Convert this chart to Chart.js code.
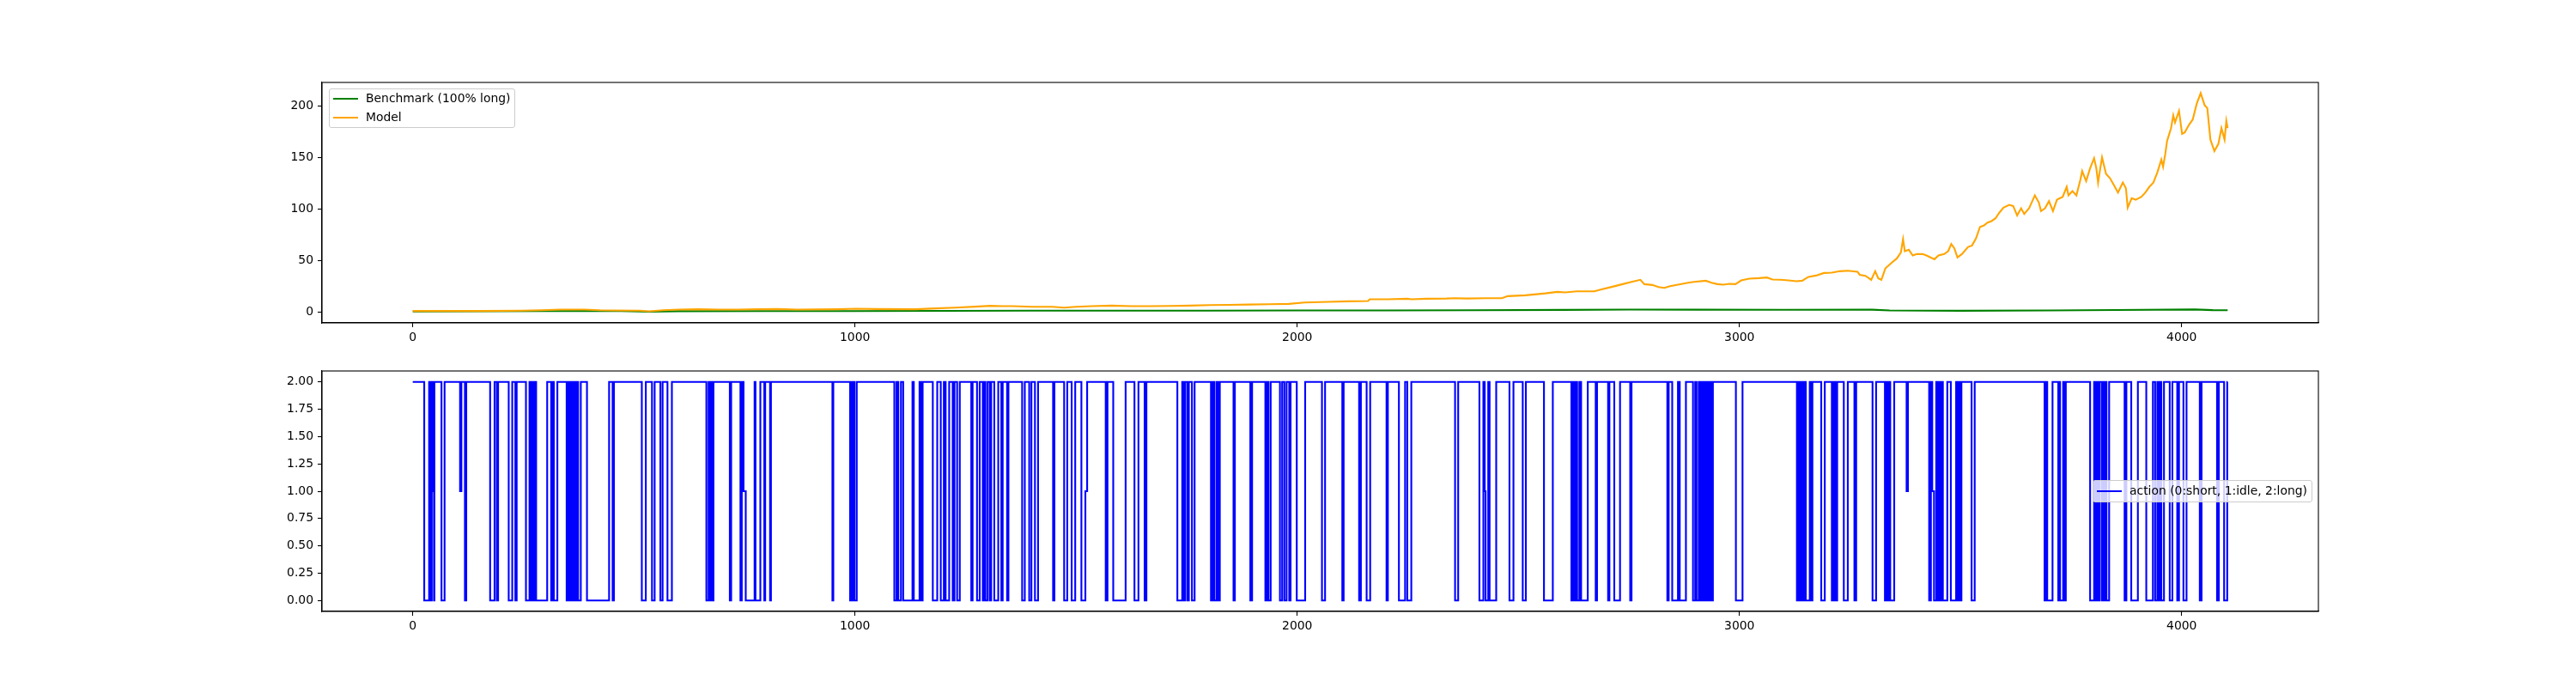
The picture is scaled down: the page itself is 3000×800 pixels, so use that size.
<!DOCTYPE html>
<html>
<head>
<meta charset="utf-8">
<script src="https://cdn.jsdelivr.net/npm/chart.js@4.4.1/dist/chart.umd.min.js"></script>
<style>
    html, body { margin: 0; padding: 0; background: #fff; }
    #lienzo { position: relative; width: 3000px; height: 800px; font-family: "DejaVu Sans", sans-serif; }
    canvas { position: absolute; left: 0; }
    .leyenda {
        position: absolute;
        background: rgba(255, 255, 255, 0.8);
        border: 1px solid #cccccc;
        border-radius: 3px;
        box-sizing: border-box;
        font-size: 13.9px;
        color: #000;
    }
    .fila { position: absolute; left: 0; height: 16px; }
    .muestra { position: absolute; left: 4px; top: 7px; width: 29px; height: 2px; }
    .texto { position: absolute; left: 42px; top: -1px; white-space: nowrap; line-height: 16px; }
</style>
</head>
<body>
<div id="lienzo">
    <canvas id="graficoValor" width="3000" height="416" style="top:0"></canvas>
    <canvas id="graficoAccion" width="3000" height="384" style="top:416px"></canvas>
</div>
<script>
// Valores (eje x = paso de tiempo)
const modeloPaso = [
    0, 67, 156, 245, 290, 334, 388, 423, 450, 513, 535, 566, 602, 646, 691, 736, 780, 825, 869, 958,
    1003, 1048, 1137, 1182, 1226, 1271, 1306, 1333, 1357, 1401, 1446, 1473, 1500, 1535, 1580, 1624, 1669, 1714, 1758, 1803,
    1847, 1892, 1937, 1981, 2017, 2070, 2115, 2160, 2164, 2204, 2249, 2258, 2293, 2338, 2356, 2383, 2427, 2463, 2476, 2516,
    2561, 2588, 2606, 2632, 2672, 2686, 2713, 2736, 2754, 2776, 2785, 2803, 2817, 2830, 2843, 2861, 2884, 2897, 2924, 2937,
    2950, 2964, 2977, 2991, 3004, 3022, 3044, 3062, 3075, 3093, 3111, 3129, 3142, 3156, 3173, 3191, 3209, 3227, 3245, 3267,
    3272, 3285, 3298, 3307, 3314, 3321, 3330, 3343, 3356, 3365, 3370, 3374, 3383, 3392, 3401, 3414, 3423, 3441, 3450, 3463,
    3472, 3479, 3486, 3493, 3503, 3517, 3526, 3535, 3544, 3553, 3561, 3570, 3579, 3588, 3597, 3610, 3619, 3628, 3637, 3644,
    3655, 3668, 3677, 3682, 3691, 3700, 3709, 3718, 3731, 3740, 3744, 3753, 3762, 3771, 3775, 3784, 3793, 3802, 3807, 3811,
    3816, 3820, 3829, 3838, 3847, 3856, 3867, 3874, 3878, 3887, 3896, 3909, 3918, 3927, 3936, 3945, 3954, 3958, 3963, 3967,
    3976, 3981, 3985, 3994, 4001, 4007, 4016, 4025, 4034, 4043, 4052, 4058, 4065, 4074, 4083, 4090, 4097, 4101, 4104
];
const modeloValor = [
    1.4, 1.4, 1.4, 1.7, 2.2, 2.8, 2.8, 2.2, 2.0, 1.7, 1.1, 2.2, 2.8, 3.1, 2.8, 2.8, 3.1, 3.3, 2.8, 3.1,
    3.6, 3.3, 3.1, 3.9, 4.7, 5.6, 6.4, 6.1, 6.1, 5.5, 5.5, 4.7, 5.5, 6.1, 6.6, 6.1, 6.1, 6.3, 6.6, 7.2,
    7.4, 7.7, 8.0, 8.3, 9.7, 10.2, 10.8, 11.1, 12.7, 12.7, 13.3, 12.7, 13.3, 13.5, 13.8, 13.5, 13.8, 13.8, 15.8, 16.6,
    18.5, 19.9, 19.4, 20.5, 20.5, 22.1, 24.9, 27.4, 29.4, 31.6, 27.4, 26.6, 24.6, 23.8, 25.5, 26.9, 28.8, 29.6, 30.7, 28.8,
    27.4, 26.9, 27.7, 27.4, 31.0, 32.7, 33.2, 33.8, 31.9, 31.6, 31.0, 30.2, 30.7, 34.4, 35.7, 38.2, 38.5, 39.9, 40.4, 39.3,
    36.5, 35.4, 31.6, 39.9, 33.0, 31.6, 42.6, 47.6, 52.3, 57.9, 70.9, 59.3, 60.7, 55.1, 56.5, 56.5, 55.1, 51.5, 55.1, 56.5,
    59.3, 66.2, 62.0, 53.2, 56.5, 63.4, 64.8, 71.7, 82.8, 84.2, 87.0, 88.4, 91.1, 96.7, 101.4, 104.1, 103.0, 93.9, 100.8, 95.3,
    100.8, 113.3, 106.4, 98.1, 100.8, 107.7, 98.1, 109.1, 111.9, 121.6, 113.3, 117.4, 113.3, 128.5, 136.8, 127.1, 139.6, 149.3, 139.6, 125.7,
    139.6, 150.1, 134.1, 129.9, 123.0, 116.1, 125.7, 120.2, 101.4, 110.5, 109.1, 111.9, 116.1, 121.6, 125.7, 135.4, 147.9, 141.0, 153.5, 165.9,
    178.4, 190.8, 183.9, 195.0, 172.8, 174.2, 181.2, 186.7, 201.9, 212.2, 200.5, 197.8, 167.3, 156.2, 163.1, 178.4, 167.3, 185.3, 178.4
];

const benchPaso = [0, 150, 300, 450, 535, 600, 800, 1000, 1200, 1400, 1600, 1800, 2000, 2200, 2400, 2600, 2750, 2900, 3100, 3300, 3340, 3500, 3700, 3850, 4030, 4070, 4104];
const benchValor = [1.0, 1.1, 1.3, 1.5, 0.7, 1.2, 1.3, 1.3, 1.5, 1.7, 1.8, 1.8, 1.9, 2.0, 2.2, 2.5, 2.8, 2.7, 2.6, 2.7, 1.9, 1.6, 2.0, 2.4, 2.9, 2.3, 2.2];

// Acción: paso donde empieza cada tramo y su valor (0 short, 1 idle, 2 long)
const accionInicio = [
    0, 26, 37, 40, 43, 46, 48, 49, 65, 72, 107, 110, 118, 121, 175, 185, 190, 193, 217, 225,
    232, 235, 256, 264, 267, 270, 274, 277, 279, 304, 313, 317, 319, 327, 348, 352, 354, 358, 361, 364,
    366, 370, 374, 380, 394, 444, 452, 455, 518, 527, 541, 547, 560, 565, 576, 586, 664, 669, 671, 675,
    677, 680, 717, 720, 741, 744, 748, 753, 773, 775, 786, 795, 797, 808, 810, 949, 951, 989, 992, 994,
    997, 999, 1004, 1089, 1094, 1098, 1104, 1109, 1130, 1133, 1146, 1150, 1153, 1176, 1186, 1194, 1201, 1205, 1213, 1221,
    1225, 1231, 1237, 1263, 1266, 1276, 1282, 1289, 1292, 1295, 1300, 1305, 1308, 1315, 1324, 1331, 1334, 1344, 1347, 1378,
    1384, 1394, 1399, 1407, 1414, 1448, 1451, 1473, 1480, 1490, 1498, 1512, 1521, 1525, 1567, 1571, 1584, 1612, 1632, 1641,
    1655, 1659, 1729, 1740, 1744, 1747, 1752, 1755, 1762, 1768, 1805, 1809, 1813, 1818, 1822, 1825, 1856, 1859, 1894, 1898,
    1928, 1932, 1935, 1940, 1961, 1966, 1971, 1976, 1982, 1985, 1999, 2018, 2056, 2063, 2102, 2105, 2140, 2144, 2157, 2165,
    2202, 2205, 2230, 2244, 2249, 2258, 2357, 2364, 2412, 2421, 2424, 2426, 2432, 2435, 2450, 2480, 2489, 2510, 2517, 2558,
    2578, 2620, 2624, 2626, 2630, 2633, 2638, 2642, 2657, 2675, 2678, 2703, 2706, 2717, 2730, 2753, 2756, 2837, 2840, 2848,
    2861, 2865, 2879, 2895, 2900, 2903, 2908, 2911, 2914, 2916, 2919, 2922, 2924, 2927, 2929, 2932, 2935, 2937, 2940, 2992,
    3007, 3130, 3133, 3137, 3140, 3144, 3148, 3150, 3159, 3163, 3165, 3185, 3193, 3209, 3212, 3214, 3216, 3218, 3221, 3236,
    3245, 3260, 3264, 3301, 3309, 3329, 3332, 3335, 3339, 3341, 3350, 3378, 3381, 3429, 3433, 3436, 3440, 3445, 3449, 3451,
    3454, 3458, 3460, 3470, 3478, 3490, 3493, 3495, 3499, 3502, 3525, 3532, 3690, 3694, 3696, 3708, 3721, 3723, 3725, 3732,
    3735, 3738, 3793, 3802, 3806, 3809, 3812, 3814, 3819, 3822, 3824, 3827, 3830, 3836, 3871, 3875, 3886, 3901, 3920, 3935,
    3940, 3945, 3948, 3951, 3954, 3960, 3973, 3979, 3990, 3994, 4004, 4011, 4041, 4045, 4080, 4084, 4096, 4103, 4104
];
const accionValor = [
    2, 0, 2, 0, 2, 1, 0, 2, 0, 2, 1, 2, 0, 2, 0, 2, 0, 2, 0, 2,
    0, 2, 0, 2, 0, 2, 0, 2, 0, 2, 0, 2, 0, 2, 0, 2, 0, 2, 0, 2,
    0, 2, 0, 2, 0, 2, 0, 2, 0, 2, 0, 2, 0, 2, 0, 2, 0, 2, 0, 2,
    0, 2, 0, 2, 0, 2, 1, 0, 2, 0, 2, 0, 2, 0, 2, 0, 2, 0, 2, 0,
    2, 0, 2, 0, 2, 0, 2, 0, 2, 0, 2, 0, 2, 0, 2, 0, 2, 0, 2, 0,
    2, 0, 2, 0, 2, 0, 2, 0, 2, 0, 2, 0, 2, 0, 2, 0, 2, 0, 2, 0,
    2, 0, 2, 0, 2, 0, 2, 0, 2, 0, 2, 0, 1, 2, 0, 2, 0, 2, 0, 2,
    0, 2, 0, 2, 0, 2, 0, 2, 0, 2, 0, 2, 0, 2, 0, 2, 0, 2, 0, 2,
    0, 2, 0, 2, 0, 2, 0, 2, 0, 2, 0, 2, 0, 2, 0, 2, 0, 2, 0, 2,
    0, 2, 0, 2, 0, 2, 0, 2, 0, 2, 1, 0, 2, 0, 2, 0, 2, 0, 2, 0,
    2, 0, 2, 0, 2, 0, 2, 0, 2, 0, 2, 0, 2, 0, 2, 0, 2, 0, 2, 0,
    2, 0, 2, 0, 2, 0, 2, 0, 2, 0, 2, 0, 2, 0, 2, 0, 2, 0, 2, 0,
    2, 0, 2, 0, 2, 0, 2, 0, 2, 0, 2, 0, 2, 0, 2, 0, 2, 0, 2, 0,
    2, 0, 2, 0, 2, 0, 2, 0, 2, 0, 2, 1, 2, 0, 2, 1, 0, 2, 0, 2,
    0, 2, 0, 2, 0, 2, 0, 2, 0, 2, 0, 2, 0, 2, 0, 2, 0, 2, 0, 2,
    0, 2, 0, 2, 0, 2, 0, 2, 0, 2, 0, 2, 0, 2, 0, 2, 0, 2, 0, 2,
    0, 2, 0, 2, 0, 2, 0, 2, 0, 2, 0, 2, 0, 2, 0, 2, 0, 2, 2
];

const ticksX = [0, 1000, 2000, 3000, 4000];
const ticksValor = [0, 50, 100, 150, 200];
const ticksAccion = [0, 0.25, 0.5, 0.75, 1.0, 1.25, 1.5, 1.75, 2.0];

const fuente = { family: "DejaVu Sans", size: 13.9 };

// marco completo del área (como matplotlib)
const marco = {
    id: 'marco',
    afterDraw(chart) {
        const { ctx, chartArea: a } = chart;
        ctx.save();
        ctx.strokeStyle = '#000';
        ctx.lineWidth = 1.1;
        ctx.strokeRect(a.left, a.top, a.right - a.left, a.bottom - a.top);
        ctx.restore();
    }
};

function ejeX() {
    return {
        type: 'linear',
        min: -205.2,
        max: 4309.2,
        afterFit: s => { s.height = 40; },
        afterBuildTicks: s => { s.ticks = ticksX.map(v => ({ value: v })); },
        ticks: { color: '#000', font: fuente, padding: 4, maxRotation: 0, callback: v => String(v) },
        grid: { drawOnChartArea: false, drawTicks: true, tickLength: 5, tickColor: '#000', tickWidth: 1.1 },
        border: { display: true, color: '#000', width: 1.1 }
    };
}

function ejeY(min, max, lista, formato) {
    return {
        min: min,
        max: max,
        afterFit: s => { s.width = 60; },
        afterBuildTicks: s => { s.ticks = lista.map(v => ({ value: v })); },
        ticks: { color: '#000', font: fuente, padding: 5, callback: formato },
        grid: { drawOnChartArea: false, drawTicks: true, tickLength: 5, tickColor: '#000', tickWidth: 1.1 },
        border: { display: true, color: '#000', width: 1.1 }
    };
}

const opcionesBase = {
    responsive: false,
    animation: false,
    devicePixelRatio: 1,
    events: [],
    plugins: { legend: { display: false }, tooltip: { enabled: false } },
    elements: { point: { radius: 0 }, line: { tension: 0 } }
};

const graficoValor = new Chart(document.getElementById('graficoValor'), {
    type: 'line',
    data: {
        datasets: [
            {
                label: 'Benchmark (100% long)',
                data: benchPaso.map((p, i) => ({ x: p, y: benchValor[i] })),
                borderColor: '#008000',
                borderWidth: 2.1,
                order: 1
            },
            {
                label: 'Model',
                data: modeloPaso.map((p, i) => ({ x: p, y: modeloValor[i] })),
                borderColor: '#FFA500',
                borderWidth: 2.1,
                order: 0
            }
        ]
    },
    options: {
        ...opcionesBase,
        layout: { padding: { left: 315, right: 300, top: 96, bottom: 0 } },
        scales: {
            x: ejeX(),
            y: ejeY(-10.1, 222.6, ticksValor, v => String(v))
        }
    },
    plugins: [marco]
});

const graficoAccion = new Chart(document.getElementById('graficoAccion'), {
    type: 'line',
    data: {
        datasets: [
            {
                label: 'action (0:short, 1:idle, 2:long)',
                data: accionInicio.map((p, i) => ({ x: p, y: accionValor[i] })),
                borderColor: '#0000FF',
                borderWidth: 2.1,
                stepped: true
            }
        ]
    },
    options: {
        ...opcionesBase,
        layout: { padding: { left: 315, right: 300, top: 16, bottom: 48 } },
        scales: {
            x: ejeX(),
            y: ejeY(-0.1, 2.1, ticksAccion, v => v.toFixed(2))
        }
    },
    plugins: [marco]
});

// Leyendas con recuadro dentro de los ejes, armadas desde los datasets
function leyenda(grafico, caja, filaY) {
    const div = document.createElement('div');
    div.className = 'leyenda';
    Object.assign(div.style, caja);
    grafico.data.datasets.forEach((ds, i) => {
        const fila = document.createElement('div');
        fila.className = 'fila';
        fila.style.top = filaY[i] + 'px';
        fila.innerHTML = '<div class="muestra" style="background:' + ds.borderColor + '"></div>' +
            '<div class="texto">' + ds.label + '</div>';
        div.appendChild(fila);
    });
    document.getElementById('lienzo').appendChild(div);
}

leyenda(graficoValor, { left: '383px', top: '103px', width: '217px', height: '46px' }, [3, 24.5]);
leyenda(graficoAccion, { left: '2437px', top: '559px', width: '256px', height: '26px' }, [4]);
</script>
</body>
</html>
